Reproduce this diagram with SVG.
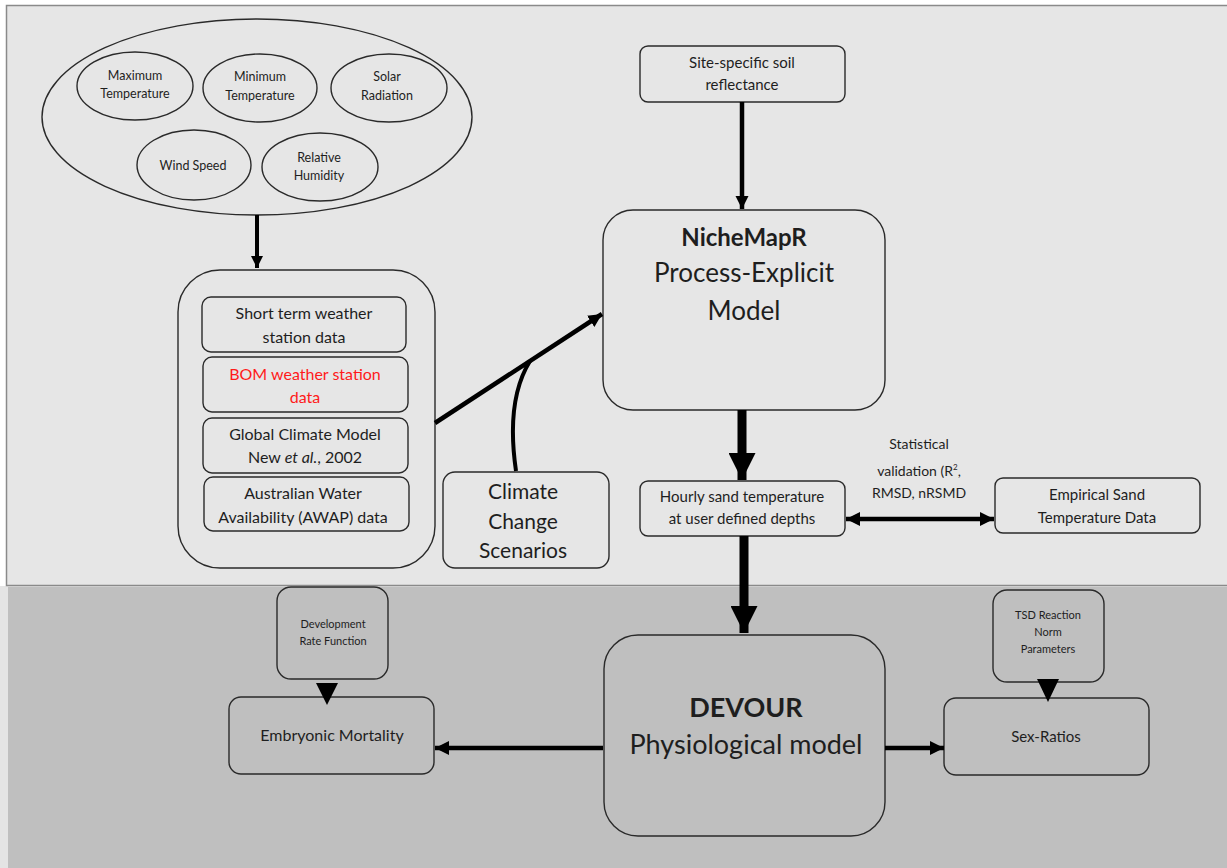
<svg xmlns="http://www.w3.org/2000/svg" width="1227" height="868" viewBox="0 0 1227 868">
<style>
.bx{fill:none;stroke:#2a2a2a;stroke-width:1.4}
.t{font-family:Lato,"Liberation Sans",sans-serif;fill:#1e1e1e;text-anchor:middle}
.s11{font-size:11px}.s12{font-size:12.5px}.s14{font-size:14px}.s15{font-size:15px}.s16{font-size:16px}.s21{font-size:21px}.s26{font-size:26px}
.b{font-weight:bold}
.ln{fill:none;stroke:#000}
</style>
<defs>
<marker id="ah" viewBox="0 0 10 10" refX="10" refY="5" markerWidth="3" markerHeight="3" orient="auto" markerUnits="strokeWidth"><path d="M0,0L10,5L0,10z" fill="#000"/></marker>
<marker id="ahs" viewBox="0 0 10 10" refX="10" refY="5" markerWidth="3.2" markerHeight="3.4" orient="auto-start-reverse" markerUnits="strokeWidth"><path d="M0,0L10,5L0,10z" fill="#000"/></marker>
</defs>
<rect x="0" y="0" width="1227" height="868" fill="#ffffff"/>
<rect x="0" y="586" width="1227" height="282" fill="#e4e4e4"/>
<rect x="6.5" y="5.5" width="1222" height="580" fill="#e6e6e6" stroke="#8a8a8a" stroke-width="1.5"/>
<rect x="8" y="587" width="1219" height="281" fill="#bfbfbf"/>

<g id="weather-vars">
<ellipse class="bx" cx="257" cy="117" rx="215" ry="98"/>
</g>
<g id="max-temp"><ellipse class="bx" cx="135" cy="86" rx="58" ry="34"/><text class="t s12" x="135" y="80">Maximum</text><text class="t s12" x="135" y="98">Temperature</text></g>
<g id="min-temp"><ellipse class="bx" cx="260" cy="88" rx="57" ry="34"/><text class="t s12" x="260" y="81">Minimum</text><text class="t s12" x="260" y="100">Temperature</text></g>
<g id="solar"><ellipse class="bx" cx="389" cy="88" rx="58" ry="34"/><text class="t s12" x="387" y="81">Solar</text><text class="t s12" x="387" y="100">Radiation</text></g>
<g id="wind"><ellipse class="bx" cx="194" cy="165" rx="57" ry="35"/><text class="t s12" x="193" y="170">Wind Speed</text></g>
<g id="humidity"><ellipse class="bx" cx="320" cy="167" rx="58" ry="34"/><text class="t s12" x="319" y="162">Relative</text><text class="t s12" x="319" y="180">Humidity</text></g>

<g id="data-sources"><rect class="bx" x="178" y="270" width="257" height="298" rx="42"/></g>
<g id="short-term"><rect class="bx" x="202" y="297" width="204" height="55" rx="9"/><text class="t s16" x="304" y="319">Short term weather</text><text class="t s16" x="304" y="343">station data</text></g>
<g id="bom"><rect class="bx" x="203" y="357" width="205" height="55" rx="9"/><text class="t s16" x="305" y="380" style="fill:#ff1a1a">BOM weather station</text><text class="t s16" x="305" y="403" style="fill:#ff1a1a">data</text></g>
<g id="gcm"><rect class="bx" x="203" y="418" width="205" height="55" rx="9"/><text class="t s16" x="305" y="440">Global Climate Model</text><text class="t s16" x="305" y="463">New <tspan font-style="italic">et al.</tspan>, 2002</text></g>
<g id="awap"><rect class="bx" x="204" y="477" width="205" height="54" rx="9"/><text class="t s16" x="303" y="499">Australian Water</text><text class="t s16" x="303" y="523">Availability (AWAP) data</text></g>

<g id="climate-change"><rect class="bx" x="443" y="472" width="166" height="96" rx="12"/><text class="t s21" x="523" y="499">Climate</text><text class="t s21" x="523" y="529">Change</text><text class="t s21" x="523" y="558">Scenarios</text></g>

<g id="soil"><rect class="bx" x="640" y="46" width="205" height="56" rx="8"/><text class="t s15" x="742" y="68">Site-specific soil</text><text class="t s15" x="742" y="90">reflectance</text></g>

<g id="nichemapr"><rect class="bx" x="603" y="210" width="282" height="200" rx="30"/><text class="t s26 b" x="744" y="246" style="font-size:24px">NicheMapR</text><text class="t s26" x="744" y="282">Process-Explicit</text><text class="t s26" x="744" y="320">Model</text></g>

<g id="hourly"><rect class="bx" x="640" y="481" width="205" height="55" rx="8"/><text class="t s15" x="742" y="502">Hourly sand temperature</text><text class="t s15" x="742" y="524">at user defined depths</text></g>

<g id="empirical"><rect class="bx" x="995" y="478" width="205" height="55" rx="8"/><text class="t s15" x="1097" y="500">Empirical Sand</text><text class="t s15" x="1097" y="523">Temperature Data</text></g>

<g id="devour"><rect class="bx" x="604" y="635" width="281" height="201" rx="34"/><text class="t s26 b" x="746" y="717" style="font-size:27px">DEVOUR</text><text class="t s26" x="746" y="754" style="font-size:27px">Physiological model</text></g>

<g id="dev-rate"><rect class="bx" x="277" y="587" width="111" height="92" rx="14"/><text class="t s11" x="333" y="628">Development</text><text class="t s11" x="333" y="645">Rate Function</text></g>
<g id="embryonic"><rect class="bx" x="229" y="697" width="205" height="77" rx="12"/><text class="t s16" x="332" y="741">Embryonic Mortality</text></g>

<g id="tsd"><rect class="bx" x="993" y="590" width="111" height="92" rx="14"/><text class="t s11" x="1048" y="619">TSD Reaction</text><text class="t s11" x="1048" y="636">Norm</text><text class="t s11" x="1048" y="653">Parameters</text></g>
<g id="sex-ratios"><rect class="bx" x="944" y="698" width="205" height="77" rx="12"/><text class="t s15" x="1046" y="742">Sex-Ratios</text></g>

<g id="stat-label"><text class="t s14" x="919" y="449">Statistical</text><text class="t s14" x="919" y="476">validation (R<tspan dy="-6" font-size="8">2</tspan><tspan dy="6">,</tspan></text><text class="t s14" x="919" y="498">RMSD, nRSMD</text></g>

<g id="connectors">
<line class="ln" x1="257" y1="215" x2="257" y2="268" stroke-width="4" marker-end="url(#ah)"/>
<line class="ln" x1="742" y1="102" x2="742" y2="209" stroke-width="4.5" marker-end="url(#ah)"/>
<line class="ln" x1="435" y1="423" x2="602" y2="314" stroke-width="4.5" marker-end="url(#ah)"/>
<path class="ln" d="M516,471 C510,430 512,390 530,361" stroke-width="4"/>
<line class="ln" x1="742" y1="410" x2="742" y2="480" stroke-width="9" marker-end="url(#ah)"/>
<line class="ln" x1="744" y1="536" x2="744" y2="633" stroke-width="9" marker-end="url(#ah)"/>
<line class="ln" x1="846" y1="519" x2="994" y2="519" stroke-width="4.5" marker-start="url(#ahs)" marker-end="url(#ahs)"/>
<line class="ln" x1="603" y1="748" x2="435" y2="748" stroke-width="4.5" marker-end="url(#ahs)"/>
<line class="ln" x1="885" y1="748" x2="944" y2="748" stroke-width="4.5" marker-end="url(#ahs)"/>
<path d="M316,683L338,683L327,705z" fill="#000"/>
<path d="M1037,679L1059,679L1048,702z" fill="#000"/>
</g>
</svg>
